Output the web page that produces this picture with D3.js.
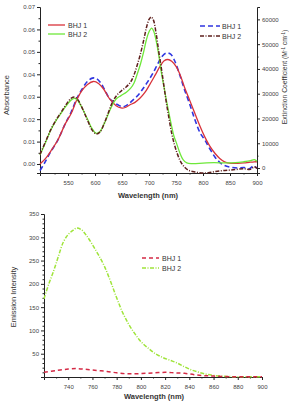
<!DOCTYPE html>
<html>
<head>
<meta charset="utf-8">
<script src="https://cdn.jsdelivr.net/npm/d3@7"></script>
<style>
  body { margin: 0; background: #fff; }
  svg { font-family: "Liberation Sans", Arial, sans-serif; }
  .tick text { fill: #444; font-size: 6px; }
  .axisTitle { fill: #333; font-size: 7.5px; font-weight: bold; }
  .legendText { fill: #333; font-size: 7px; }
</style>
</head>
<body>
<div id="chart"></div>
<script>
// ---- data ----
// top panel: absorbance (left axis)
var absWl1 = [498,510,520,531,545,556,565,575,586,597,607,617,627,639,648,656,664,674,683,692,701,711,720,728,735,742,750,758,766,775,785,795,803,812,822,831,840,852,864,876,886,895,900];
var absBHJ1 = [0.000,0.003,0.0065,0.0107,0.018,0.0226,0.028,0.0325,0.0355,0.0368,0.0358,0.0330,0.0290,0.0260,0.0250,0.0252,0.0263,0.0275,0.0293,0.0318,0.0353,0.0395,0.0434,0.0460,0.0466,0.0458,0.0435,0.0395,0.0340,0.0286,0.0225,0.0165,0.0122,0.0082,0.0048,0.0025,0.0010,0.0003,0.0003,0.0005,0.0008,0.0010,0.0010];
var absWl2 = [498,508,518,528,537,546,556,563,569,575,581,587,594,602,609,617,624,631,639,648,658,666,672,678,684,690,695,700,705,709,714,719,723,728,732,737,742,746,751,757,763,770,780,800,820,840,860,875,888,895,900];
var absBHJ2 = [0.0040,0.0095,0.0152,0.0195,0.0226,0.0258,0.0286,0.0293,0.0280,0.0255,0.0225,0.0195,0.0160,0.0137,0.0145,0.0180,0.0220,0.0258,0.0290,0.0305,0.0320,0.0338,0.0360,0.0400,0.0445,0.0500,0.0553,0.0590,0.0606,0.0590,0.0540,0.0470,0.0405,0.0340,0.0286,0.0225,0.0167,0.0125,0.0092,0.0050,0.0020,0.0005,0.0002,0.0004,0.0006,0.0005,0.0006,0.0010,0.0015,0.0020,0.0012];
// top panel: extinction coefficient (right axis)
var extWl1 = [498,505,515,531,545,556,566,575,586,595,602,610,618,627,636,645,652,660,670,680,689,698,707,716,724,732,740,747,754,760,766,775,785,795,803,812,822,831,840,852,864,876,886,893,900];
var extBHJ1 = [-1000,1500,5500,11300,18000,22700,28000,31500,35000,36300,36200,34500,31500,28000,26300,25200,24700,25500,27400,29500,32100,35000,38200,42000,45000,46400,46000,43500,39500,35500,31450,26000,19500,14000,11500,8000,4500,2300,1000,300,0,200,-300,800,0];
var extWl2 = [498,508,518,528,537,546,556,563,569,575,581,587,594,602,609,617,624,631,639,648,658,666,672,678,684,690,695,700,704,708,713,718,723,728,732,737,742,747,752,758,764,772,785,800,815,830,845,860,875,888,895,900];
var extBHJ2 = [5500,10500,15500,19500,22500,25500,28200,28600,27300,24800,21800,18800,15500,13800,14500,18000,22000,26000,29000,31000,32800,34800,37500,41500,46000,51500,56500,60000,61000,59800,54500,47000,40000,32500,26500,20000,14000,9500,6000,2800,800,-800,-1600,-2000,-1700,-1200,-900,-600,-300,-500,500,-200];
// bottom panel: emission
var emWl = [720,724,728,732,736,740,744,747,751,755,760,765,770,775,780,785,790,795,800,806,812,818,824,830,836,842,848,854,860,866,872,880,890,900];
var emBHJ2 = [168,200,228,260,290,306,315,320,316,304,284,262,237,205,170,138,113,93,76,62,50,42,36,30,22,15,10,6,3.5,2,1,0.5,0.3,0.3];
var emWl1 = [720,730,740,748,756,764,772,780,788,796,804,812,820,828,836,844,852,860,870,880,890,900];
var emBHJ1 = [10,14,17,18,16,14,12,9,7,7,8,9,10,9,8,5,3,2,1,0.5,0.3,0.3];

var topXTicks = [550,600,650,700,750,800,850,900];
var absTicks = [0,0.01,0.02,0.03,0.04,0.05,0.06,0.07];
var extTicks = [0,10000,20000,30000,40000,50000,60000];
var emXTicks = [740,760,780,800,820,840,860,880,900];
var emYTicks = [50,100,150,200,250,300,350];

var svg = d3.select("#chart").append("svg").attr("width", 289).attr("height", 402);

function zip(a, b) { return a.map(function(v, i) { return [v, b[i]]; }); }

// ---------------- top panel ----------------
var x1 = d3.scaleLinear().domain([498, 900]).range([40, 257]);
var yA = d3.scaleLinear().domain([-0.004, 0.07]).range([173, 7]);
var yE = d3.scaleLinear().domain([-2000, 65000]).range([173, 7]);

function minorAxis(g, axis) {
  g.call(axis);
  g.selectAll("text").remove();
  g.select(".domain").remove();
}

var gx1 = svg.append("g").attr("transform", "translate(0,173)");
gx1.call(d3.axisBottom(x1).tickValues(topXTicks).tickSize(3).tickPadding(5));
svg.append("g").attr("transform", "translate(0,173)")
   .call(minorAxis, d3.axisBottom(x1).tickValues(d3.range(525, 900, 50)).tickSize(1.5));

var gyA = svg.append("g").attr("transform", "translate(40,0)");
gyA.call(d3.axisLeft(yA).tickValues(absTicks).tickFormat(d3.format(".2f")).tickSize(3).tickPadding(2));
svg.append("g").attr("transform", "translate(40,0)")
   .call(minorAxis, d3.axisLeft(yA).tickValues(d3.range(0.005, 0.07, 0.01)).tickSize(1.5));

var gyE = svg.append("g").attr("transform", "translate(257,0)");
gyE.call(d3.axisRight(yE).tickValues(extTicks).tickFormat(d3.format("d")).tickSize(3).tickPadding(2));
svg.append("g").attr("transform", "translate(257,0)")
   .call(minorAxis, d3.axisRight(yE).tickValues(d3.range(5000, 65000, 10000)).tickSize(1.5));

var lineA = d3.line().curve(d3.curveCatmullRom).x(function(d) { return x1(d[0]); }).y(function(d) { return yA(d[1]); });
var lineE = d3.line().curve(d3.curveCatmullRom).x(function(d) { return x1(d[0]); }).y(function(d) { return yE(d[1]); });

svg.append("path").datum(zip(extWl1, extBHJ1)).attr("d", lineE)
   .attr("fill", "none").attr("stroke", "#2f35e0").attr("stroke-width", 1.6).attr("stroke-dasharray", "5,3");
svg.append("path").datum(zip(absWl1, absBHJ1)).attr("d", lineA)
   .attr("fill", "none").attr("stroke", "#d8323a").attr("stroke-width", 1.3);
svg.append("path").datum(zip(absWl2, absBHJ2)).attr("d", lineA)
   .attr("fill", "none").attr("stroke", "#6ee83a").attr("stroke-width", 1.3);
svg.append("path").datum(zip(extWl2, extBHJ2)).attr("d", lineE)
   .attr("fill", "none").attr("stroke", "#5e1f1c").attr("stroke-width", 1.5).attr("stroke-dasharray", "4,1.5,1,1.5");

// top legends
var legTopL = [["BHJ 1", "#d8323a", null], ["BHJ 2", "#6ee83a", null]];
legTopL.forEach(function(d, i) {
  var yy = 25 + i * 9;
  svg.append("line").attr("x1", 48).attr("x2", 65).attr("y1", yy).attr("y2", yy)
     .attr("stroke", d[1]).attr("stroke-width", 1.3);
  svg.append("text").attr("class", "legendText").attr("x", 68).attr("y", yy + 2.5).text(d[0]);
});
var legTopR = [["BHJ 1", "#2f35e0", "5,3"], ["BHJ 2", "#5e1f1c", "4,1.5,1,1.5"]];
legTopR.forEach(function(d, i) {
  var yy = 26 + i * 10;
  svg.append("line").attr("x1", 200).attr("x2", 220).attr("y1", yy).attr("y2", yy)
     .attr("stroke", d[1]).attr("stroke-width", 1.5).attr("stroke-dasharray", d[2]);
  svg.append("text").attr("class", "legendText").attr("x", 222).attr("y", yy + 2.5).text(d[0]);
});

svg.append("text").attr("class", "axisTitle").attr("x", 148).attr("y", 198)
   .attr("text-anchor", "middle").text("Wavelength (nm)");
svg.append("text").attr("class", "axisTitle").attr("transform", "translate(9,95) rotate(-90)")
   .attr("text-anchor", "middle").style("font-weight", "normal").text("Absorbance");
var ext = svg.append("text").attr("class", "axisTitle").attr("transform", "translate(287,77) rotate(-90)")
   .attr("text-anchor", "middle").style("font-weight", "normal").style("font-size", "6.8px");
ext.append("tspan").text("Extinction Coefficient (M");
ext.append("tspan").attr("dy", -2.5).style("font-size", "4.5px").text("-1");
ext.append("tspan").attr("dy", 2.5).text(" cm");
ext.append("tspan").attr("dy", -2.5).style("font-size", "4.5px").text("-1");
ext.append("tspan").attr("dy", 2.5).text(")");

// ---------------- bottom panel ----------------
var x2 = d3.scaleLinear().domain([720, 900]).range([44, 262]);
var y2 = d3.scaleLinear().domain([0, 350]).range([377, 214]);

svg.append("g").attr("transform", "translate(0,377)")
   .call(d3.axisBottom(x2).tickValues(emXTicks).tickSize(3).tickPadding(5));
svg.append("g").attr("transform", "translate(0,377)")
   .call(minorAxis, d3.axisBottom(x2).tickValues(d3.range(730, 900, 20)).tickSize(1.5));
svg.append("g").attr("transform", "translate(44,0)")
   .call(d3.axisLeft(y2).tickValues(emYTicks).tickSize(3).tickPadding(2));
svg.append("g").attr("transform", "translate(44,0)")
   .call(minorAxis, d3.axisLeft(y2).tickValues(d3.range(10, 350, 10).filter(function(v) { return v % 50 !== 0; })).tickSize(1.5));

var lineEm = d3.line().curve(d3.curveCatmullRom).x(function(d) { return x2(d[0]); }).y(function(d) { return y2(d[1]); });

svg.append("path").datum(zip(emWl, emBHJ2)).attr("d", lineEm)
   .attr("fill", "none").attr("stroke", "#9fe43a").attr("stroke-width", 1.5).attr("stroke-dasharray", "4,1.5,1,1.5");
svg.append("path").datum(zip(emWl1, emBHJ1)).attr("d", lineEm)
   .attr("fill", "none").attr("stroke", "#d42a45").attr("stroke-width", 1.5).attr("stroke-dasharray", "4,3");

var legBot = [["BHJ 1", "#d42a45", "4,3"], ["BHJ 2", "#9fe43a", "4,1.5,1,1.5"]];
legBot.forEach(function(d, i) {
  var yy = 258 + i * 10;
  svg.append("line").attr("x1", 142).attr("x2", 159).attr("y1", yy).attr("y2", yy)
     .attr("stroke", d[1]).attr("stroke-width", 1.5).attr("stroke-dasharray", d[2]);
  svg.append("text").attr("class", "legendText").attr("x", 162).attr("y", yy + 2.5).text(d[0]);
});

svg.append("text").attr("class", "axisTitle").attr("x", 154).attr("y", 399)
   .attr("text-anchor", "middle").text("Wavelength (nm)");
svg.append("text").attr("class", "axisTitle").attr("transform", "translate(16,297) rotate(-90)")
   .attr("text-anchor", "middle").style("font-weight", "normal").text("Emission Intensity");

svg.selectAll(".domain").attr("stroke", "#222");
svg.selectAll(".tick line").attr("stroke", "#222");
</script>
</body>
</html>
